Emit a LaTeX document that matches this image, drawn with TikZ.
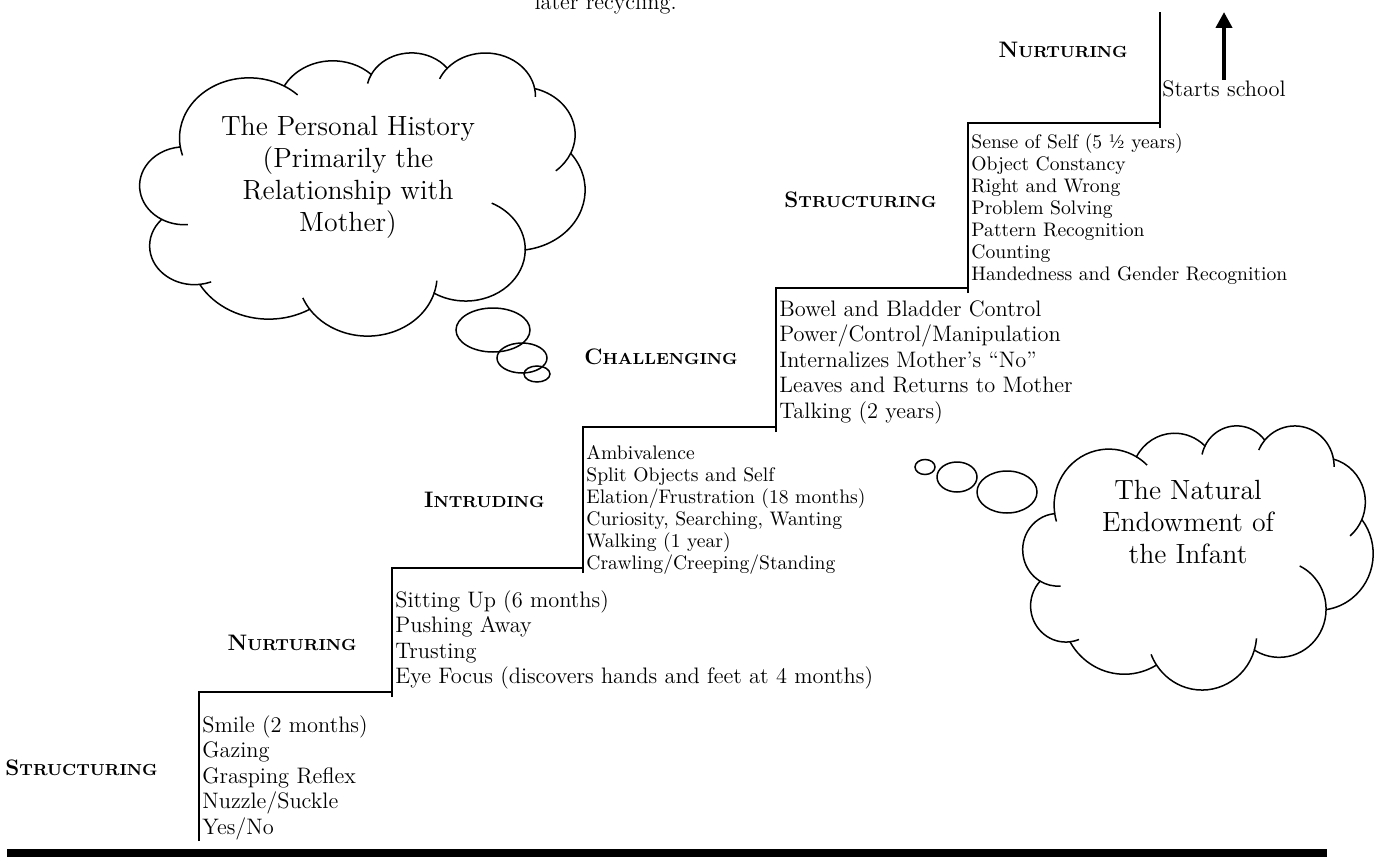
\documentclass[tikz,border=0pt]{standalone}
\usetikzlibrary{positioning,shapes.geometric,arrows.meta}

\tikzset{
  stair/.style={line width=1pt},
  biglist/.style={align=left, inner sep=0pt, font=\fontsize{11.2}{12.75}\selectfont},
  smalllist/.style={align=left, inner sep=0pt, font=\fontsize{9.8}{11}\selectfont},
  stage/.style={inner sep=0pt, anchor=east},
  cloudtext/.style={align=center, inner sep=0pt, font=\fontsize{13.9}{16}\selectfont},
  cloudline/.style={line width=0.75pt},
  bubble/.style={ellipse, draw, line width=0.75pt, inner sep=0pt},
}
\newcommand{\stagename}[2]{{\bfseries\fontsize{11.2}{12}\selectfont #1\fontsize{8}{10}\selectfont #2}}

% cloud outline in a 4320 x 4320 box
\newcommand{\cloudoutline}{%
  \draw[cloudline] (390,1437)
    arc[start angle=172.25, end angle=300.36, x radius=675.3, y radius=919.0]
    arc[start angle=-152.02, end angle=-45.44, x radius=533.3, y radius=726.7]
    arc[start angle=-153.49, end angle=-37.31, x radius=436.5, y radius=594.5]
    arc[start angle=-139.70, end angle=-10.21, x radius=485.7, y radius=659.5]
    arc[start angle=-74.77, end angle=23.21, x radius=533.3, y radius=727.3]
    arc[start angle=-37.51, end angle=81.86, x radius=677.5, y radius=922.0]
    arc[start angle=0.46, end angle=121.98, x radius=578.5, y radius=786.7]
    arc[start angle=16.84, end angle=146.24, x radius=675.2, y radius=921.5]
    arc[start angle=58.98, end angle=150.20, x radius=772.0, y radius=1054.3]
    arc[start angle=-276.69, end angle=-136.89, x radius=436.0, y radius=591.8]
    arc[start angle=-239.65, end angle=-95.89, x radius=434.5, y radius=594.5] -- cycle;
  % inner hooks
  \draw[cloudline] ([shift={(430.6,2041.5)}]85.55:434.5 and 594.5) arc[start angle=85.55, end angle=120.35, x radius=434.5, y radius=594.5];
  \draw[cloudline] ([shift={(529.3,2958.9)}]68.23:436.0 and 591.8) arc[start angle=68.23, end angle=83.31, x radius=436.0, y radius=591.8];
  \draw[cloudline] ([shift={(2209.1,3414.2)}]146.24:675.2 and 921.5) arc[start angle=146.24, end angle=158.47, x radius=675.2, y radius=921.5];
  \draw[cloudline] ([shift={(2209.1,3414.2)}]4.74:675.2 and 921.5) arc[start angle=4.74, end angle=16.84, x radius=675.2, y radius=921.5];
  \draw[cloudline] ([shift={(3161.7,3013.9)}]-64.03:578.5 and 786.7) arc[start angle=-64.03, end angle=0.46, x radius=578.5, y radius=786.7];
  \draw[cloudline] ([shift={(3691.6,1259.5)}]23.21:533.3 and 727.3) arc[start angle=23.21, end angle=49.64, x radius=533.3, y radius=727.3];
  \draw[cloudline] ([shift={(3353.7,674.6)}]-10.21:485.7 and 659.5) arc[start angle=-10.21, end angle=0.82, x radius=485.7, y radius=659.5];
  \draw[cloudline] ([shift={(3353.7,674.6)}]-156.29:485.7 and 659.5) arc[start angle=-156.29, end angle=-139.70, x radius=485.7, y radius=659.5];
  \draw[cloudline] ([shift={(2636.1,608.4)}]-167.73:436.5 and 594.5) arc[start angle=-167.73, end angle=-153.49, x radius=436.5, y radius=594.5];
  \draw[cloudline] ([shift={(1059.1,1313.1)}]-59.64:675.3 and 919.0) arc[start angle=-59.64, end angle=-45.72, x radius=675.3, y radius=919.0];
  \draw[cloudline] ([shift={(1059.1,1313.1)}]163.19:675.3 and 919.0) arc[start angle=163.19, end angle=172.25, x radius=675.3, y radius=919.0];
}

\begin{document}
\begin{tikzpicture}[x=0.5pt, y=-0.5pt]
    \useasboundingbox (0,0) rectangle (1374,856);

    % Staircase corners
    \coordinate (s0) at (199,841);
    \coordinate (s1) at (199,692);
    \coordinate (s2) at (392,692);
    \coordinate (s3) at (392,568);
    \coordinate (s4) at (583,568);
    \coordinate (s5) at (583,427);
    \coordinate (s6) at (776,427);
    \coordinate (s7) at (776,288);
    \coordinate (s8) at (968,288);
    \coordinate (s9) at (968,123);
    \coordinate (s10) at (1160,123);
    \coordinate (s11) at (1160,12);

    % Steps
    \draw[stair] (s0) -- (s1) -- (s2);
    \draw[stair] ([yshift=-2.5pt]s2) -- (s3) -- (s4);
    \draw[stair] ([yshift=-2.5pt]s4) -- (s5) -- (s6);
    \draw[stair] ([yshift=-2.5pt]s6) -- (s7) -- (s8);
    \draw[stair] ([yshift=-2.5pt]s8) -- (s9) -- (s10);
    \draw[stair] ([yshift=-2.5pt]s10) -- (s11);

    % Ground
    \fill (7,849) rectangle (1327,862);

    % Stage names
    \node[stage] (structA) at (158,768) {\stagename{S}{TRUCTURING}};
    \node[stage] (nurtA) at (357,643) {\stagename{N}{URTURING}};
    \node[stage] (intrude) at (545,500) {\stagename{I}{NTRUDING}};
    \node[stage] (challenge) at (738,357) {\stagename{C}{HALLENGING}};
    \node[stage] (structB) at (937,200) {\stagename{S}{TRUCTURING}};
    \node[stage] (nurtB) at (1128,50) {\stagename{N}{URTURING}};

    % Milestones on each step
    \node[biglist, below right=11.5pt and 1.5pt of s1] (listA) {Smile (2 months)\\Gazing\\Grasping Reflex\\Nuzzle/Suckle\\Yes/No};
    \node[biglist, below right=11pt and 1.5pt of s3] (listB) {Sitting Up (6 months)\\Pushing Away\\Trusting\\Eye Focus (discovers hands and feet at 4 months)};
    \node[smalllist, below right=9pt and 1.5pt of s5] (listC) {Ambivalence\\Split Objects and Self\\Elation/Frustration (18 months)\\Curiosity, Searching, Wanting\\Walking (1 year)\\Crawling/Creeping/Standing};
    \node[biglist, below right=6pt and 1.5pt of s7] (listD) {Bowel and Bladder Control\\Power/Control/Manipulation\\Internalizes Mother’s “No”\\Leaves and Returns to Mother\\Talking (2 years)};
    \node[smalllist, below right=5pt and 1.5pt of s9] (listE) {Sense of Self (5 ½ years)\\Object Constancy\\Right and Wrong\\Problem Solving\\Pattern Recognition\\Counting\\Handedness and Gender Recognition};
    \node[biglist, anchor=west] (school) at (1162,89) {Starts school};

    % Arrow up
    \coordinate (up0) at (1224,80);
    \coordinate (up1) at (1224,12);
    \draw[line width=2pt, -{Triangle[width=8pt,length=8pt]}] (up0) -- (up1);

    \node[biglist, anchor=base east] (recycle) at (677,10) {later recycling.};

    % Thought clouds
    \begin{scope}[xshift=70pt, yshift=-26pt, x=0.0515pt, y=-0.03276pt]
        \cloudoutline
    \end{scope}
    \node[cloudtext] (historytxt) at (348,177) {The Personal History\\(Primarily the\\Relationship with\\Mother)};
    \node[bubble, minimum width=37pt, minimum height=22pt] (hbA) at (493,330) {};
    \node[bubble, minimum width=25pt, minimum height=15pt] (hbB) at (522,358) {};
    \node[bubble, minimum width=13pt, minimum height=8pt] (hbC) at (537,374) {};

    \begin{scope}[xshift=511.5pt, yshift=-212.5pt, x=0.040509pt, y=-0.030556pt]
        \cloudoutline
    \end{scope}
    \node[cloudtext] (endowtxt) at (1188,522) {The Natural\\Endowment of\\the Infant};
    \node[bubble, minimum width=30pt, minimum height=21pt] (ebA) at (1007,492) {};
    \node[bubble, minimum width=20pt, minimum height=15pt] (ebB) at (957,477) {};
    \node[bubble, minimum width=10pt, minimum height=7.5pt] (ebC) at (925,467) {};
\end{tikzpicture}
\end{document}
